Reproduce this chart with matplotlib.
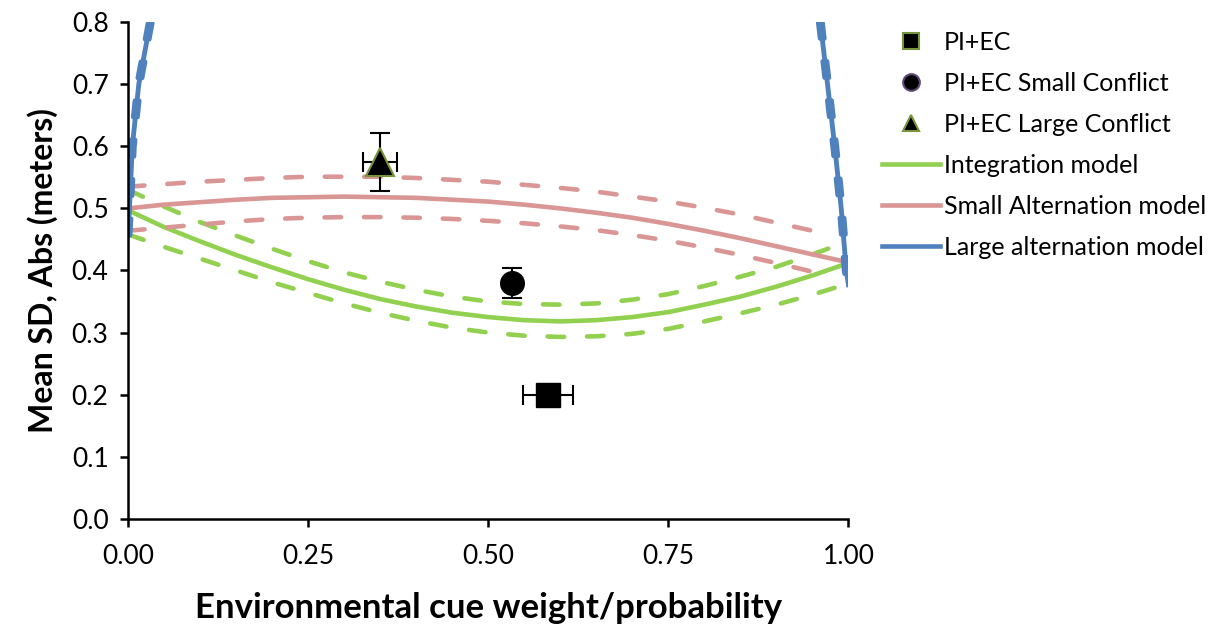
from matplotlib import pyplot as plt
from matplotlib.lines import Line2D

plt.rcParams['font.family'] = ['Lato', 'DejaVu Sans']

GREEN = '#92D050'
RED = '#D99694'
BLUE = '#4F81BD'

# observed data points (x, y, x error, y error)
pi_ec_x = [0.583]
pi_ec_y = [0.200]
pi_ec_xerr = [0.035]
pi_ec_yerr = [0.0]

small_x = [0.533]
small_y = [0.380]
small_xerr = [0.0]
small_yerr = [0.024]

large_x = [0.350]
large_y = [0.575]
large_xerr = [0.024]
large_yerr = [0.047]

w = [0, 0.05, 0.1, 0.15, 0.2, 0.25, 0.3, 0.35, 0.4, 0.45, 0.5,
     0.55, 0.6, 0.65, 0.7, 0.75, 0.8, 0.85, 0.9, 0.95, 1.0]

# integration model (solid and dashed bounds)
integ_y = [0.497, 0.470, 0.447, 0.425, 0.405, 0.386, 0.369, 0.354, 0.342, 0.332, 0.325,
           0.320, 0.318, 0.320, 0.325, 0.333, 0.345, 0.358, 0.374, 0.392, 0.412]
integ_hi_y = [0.530, 0.503, 0.478, 0.456, 0.435, 0.415, 0.397, 0.382, 0.369, 0.358, 0.350,
              0.346, 0.345, 0.347, 0.353, 0.362, 0.375, 0.390, 0.406, 0.426, 0.447]
integ_lo_y = [0.458, 0.438, 0.419, 0.400, 0.381, 0.364, 0.347, 0.332, 0.319, 0.308, 0.300,
              0.295, 0.293, 0.294, 0.298, 0.306, 0.318, 0.331, 0.345, 0.361, 0.379]

# small alternation model (dashed bounds stop at w = 0.97)
small_alt_y = [0.500, 0.506, 0.510, 0.514, 0.517, 0.518, 0.519, 0.518, 0.517, 0.514, 0.511,
               0.506, 0.500, 0.493, 0.485, 0.475, 0.464, 0.452, 0.439, 0.426, 0.413]
w_short = [0, 0.05, 0.1, 0.15, 0.2, 0.25, 0.3, 0.35, 0.4, 0.45, 0.5,
           0.55, 0.6, 0.65, 0.7, 0.75, 0.8, 0.85, 0.9, 0.95, 0.97]
small_alt_hi_y = [0.535, 0.539, 0.543, 0.546, 0.549, 0.551, 0.551, 0.551, 0.549, 0.546, 0.543,
                  0.538, 0.533, 0.527, 0.519, 0.511, 0.501, 0.490, 0.477, 0.464, 0.458]
small_alt_lo_y = [0.464, 0.469, 0.474, 0.479, 0.483, 0.485, 0.486, 0.486, 0.485, 0.483, 0.480,
                  0.476, 0.471, 0.465, 0.457, 0.448, 0.437, 0.425, 0.412, 0.398, 0.392]

# large alternation model (two steep branches at the edges)
large_left_x = [0, 0.002, 0.006, 0.015, 0.031]
large_left_y = [0.457, 0.500, 0.600, 0.700, 0.800]
large_right_x = [0.961, 0.971, 0.981, 0.990, 0.997, 1.0]
large_right_y = [0.800, 0.700, 0.600, 0.500, 0.400, 0.377]

x_ticks = [0, 0.25, 0.5, 0.75, 1.0]
x_tick_labels = ['0.00', '0.25', '0.50', '0.75', '1.00']
y_ticks = [0, 0.1, 0.2, 0.3, 0.4, 0.5, 0.6, 0.7, 0.8]
y_tick_labels = ['0.0', '0.1', '0.2', '0.3', '0.4', '0.5', '0.6', '0.7', '0.8']


def dashed(ax, x, y, color):
    line, = ax.plot(x, y, color=color, lw=3.3)
    line.set_dashes([3.6, 5])
    line.set_dash_capstyle('round')


def main():
    fig = plt.figure(figsize=(12.19, 6.32), dpi=100)
    ax = fig.add_axes([0.105, 0.179, 0.591, 0.786])

    # model curves
    ax.plot(w, integ_y, color=GREEN, lw=3.3)
    dashed(ax, w, integ_hi_y, GREEN)
    dashed(ax, w, integ_lo_y, GREEN)

    ax.plot(w, small_alt_y, color=RED, lw=3.3)
    dashed(ax, w_short, small_alt_hi_y, RED)
    dashed(ax, w_short, small_alt_lo_y, RED)

    for off in [-0.003, 0.003]:
        dashed(ax, [v + off for v in large_left_x], large_left_y, BLUE)
        dashed(ax, [v + off for v in large_right_x], large_right_y, BLUE)
    ax.plot(large_left_x, large_left_y, color=BLUE, lw=3.5)
    ax.plot(large_right_x, large_right_y, color=BLUE, lw=3.5)

    # data points
    ax.errorbar(pi_ec_x, pi_ec_y, xerr=pi_ec_xerr, yerr=pi_ec_yerr, fmt='s',
                ms=17, mfc='black', mec='black', ecolor='black',
                elinewidth=1.5, capsize=7, capthick=1.5, zorder=5)
    ax.errorbar(small_x, small_y, xerr=small_xerr, yerr=small_yerr, fmt='o',
                ms=17, mfc='black', mec='black', ecolor='black',
                elinewidth=1.5, capsize=7, capthick=1.5, zorder=5)
    ax.errorbar(large_x, large_y, xerr=large_xerr, yerr=large_yerr, fmt='^',
                ms=20, mfc='black', mec='#77933C', mew=1.5, ecolor='black',
                elinewidth=1.5, capsize=7, capthick=1.5, zorder=5)

    ax.set_xlim(0, 1)
    ax.set_ylim(0, 0.8)
    ax.set_xticks(x_ticks)
    ax.set_xticklabels(x_tick_labels)
    ax.set_yticks(y_ticks)
    ax.set_yticklabels(y_tick_labels)
    ax.tick_params(labelsize=19, width=1.8, length=6)
    ax.tick_params(axis='x', pad=12)
    ax.tick_params(axis='y', pad=8)
    for side in ['top', 'right']:
        ax.spines[side].set_visible(False)
    for side in ['left', 'bottom']:
        ax.spines[side].set_linewidth(1.8)

    ax.set_xlabel('Environmental cue weight/probability', fontsize=25,
                  fontweight='bold', labelpad=17)
    ax.set_ylabel('Mean SD, Abs (meters)', fontsize=23, fontweight='bold',
                  labelpad=10)

    # legend built by hand so markers can carry their own edges
    handles = [
        Line2D([], [], ls='none', marker='s', ms=12, mfc='black', mec='#77933C', mew=1.5),
        Line2D([], [], ls='none', marker='o', ms=12, mfc='black', mec='#5F497A', mew=1.5),
        Line2D([], [], ls='none', marker='^', ms=12, mfc='black', mec='#77933C', mew=1.5),
        Line2D([], [], color=GREEN, lw=3.3),
        Line2D([], [], color=RED, lw=3.3),
        Line2D([], [], color=BLUE, lw=3.3),
    ]
    labels = ['PI+EC', 'PI+EC Small Conflict', 'PI+EC Large Conflict',
              'Integration model', 'Small Alternation model', 'Large alternation model']
    fig.legend(handles, labels, loc='upper left', bbox_to_anchor=(0.7236, 0.951),
               frameon=False, fontsize=18, handlelength=2.3, handletextpad=0.17,
               labelspacing=0.72, borderpad=0, borderaxespad=0)

    plt.savefig('out.png', dpi=100)


if __name__ == "__main__":
    main()
